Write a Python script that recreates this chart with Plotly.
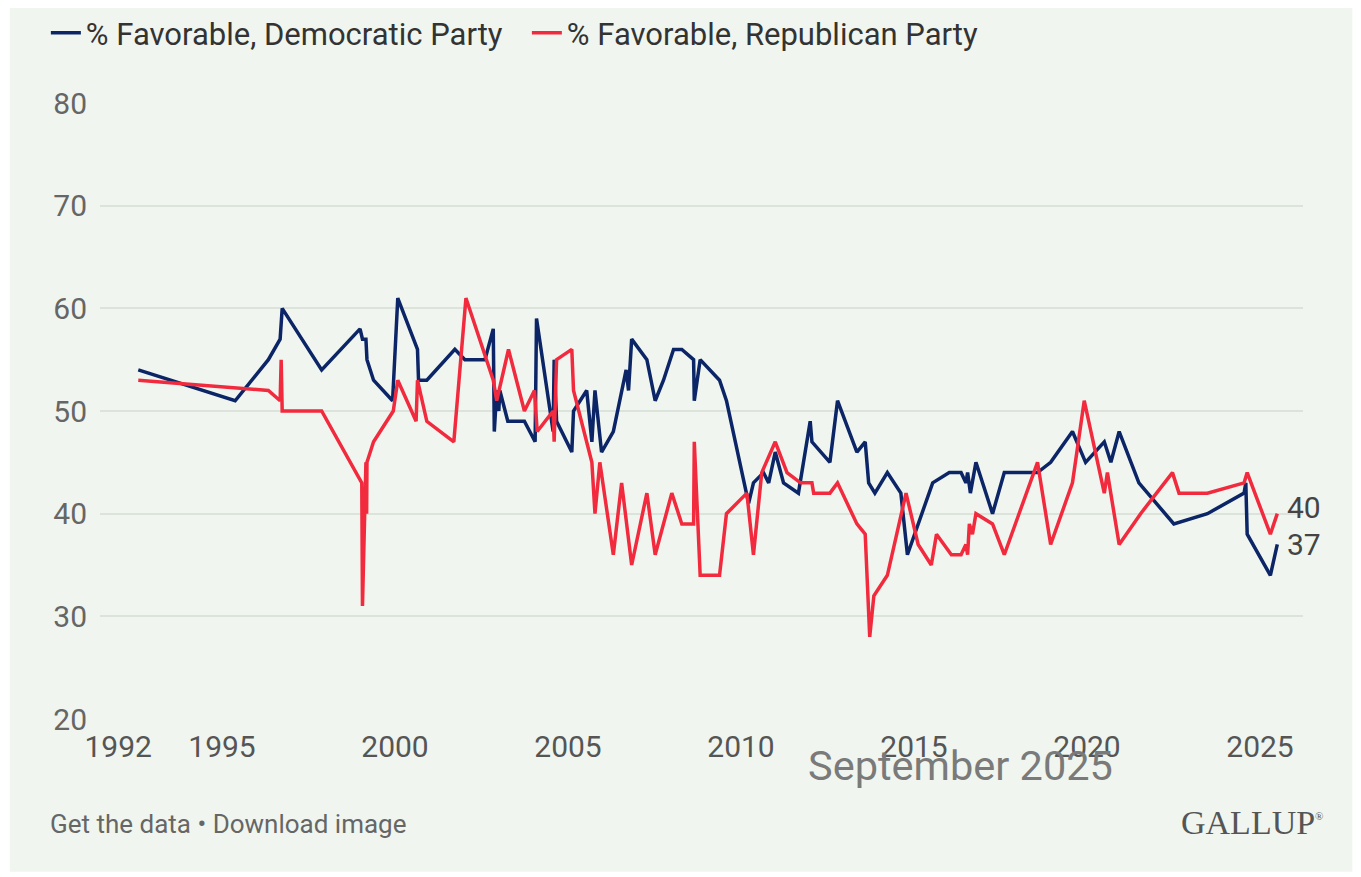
import plotly.graph_objects as go

# ---- data (decimal years, % favorable) ----
dem_years = [1992.58, 1995.38, 1996.34, 1996.68, 1996.74, 1997.88, 1998.99, 1999.06, 1999.16, 1999.19,
             1999.38, 1999.93, 2000.08, 2000.65, 2000.68, 2000.92, 2001.73, 2002.02, 2002.60, 2002.84,
             2002.87, 2002.94, 2003.00, 2003.03, 2003.26, 2003.74, 2004.05, 2004.09, 2004.57, 2004.60,
             2004.67, 2005.11, 2005.16, 2005.54, 2005.69, 2005.78, 2005.97, 2006.31, 2006.68, 2006.75,
             2006.84, 2007.28, 2007.52, 2007.76, 2008.05, 2008.29, 2008.63, 2008.65, 2008.82, 2009.38,
             2009.58, 2010.22, 2010.36, 2010.65, 2010.80, 2010.99, 2011.23, 2011.66, 2012.00, 2012.05,
             2012.57, 2012.79, 2013.35, 2013.59, 2013.69, 2013.87, 2014.23, 2014.62, 2014.81, 2015.54,
             2016.02, 2016.36, 2016.50, 2016.55, 2016.63, 2016.79, 2017.27, 2017.61, 2018.57, 2018.95,
             2019.58, 2019.96, 2020.50, 2020.69, 2020.93, 2021.50, 2022.51, 2023.48, 2024.54, 2024.59,
             2024.63, 2025.30, 2025.50]
dem_values = [54, 51, 55, 57, 60, 54, 58, 57, 57, 55,
              53, 51, 61, 56, 53, 53, 56, 55, 55, 58,
              48, 52, 50, 52, 49, 49, 47, 59, 48, 55,
              49, 46, 50, 52, 47, 52, 46, 48, 54, 52,
              57, 55, 51, 53, 56, 56, 55, 51, 55, 53,
              51, 41, 43, 44, 43, 46, 43, 42, 49, 47,
              45, 51, 46, 47, 43, 42, 44, 42, 36, 43,
              44, 44, 43, 44, 42, 45, 40, 44, 44, 45,
              48, 45, 47, 45, 48, 43, 39, 40, 42, 43,
              38, 34, 37]

rep_years = [1992.58, 1996.34, 1996.68, 1996.71, 1996.74, 1997.88, 1999.04, 1999.06, 1999.16, 1999.18,
             1999.19, 1999.38, 1999.95, 2000.08, 2000.61, 2000.65, 2000.92, 2001.70, 2002.05, 2002.84,
             2002.94, 2003.28, 2003.74, 2004.03, 2004.11, 2004.57, 2004.60, 2004.67, 2005.11, 2005.16,
             2005.69, 2005.78, 2005.92, 2006.31, 2006.55, 2006.84, 2007.28, 2007.52, 2008.00, 2008.29,
             2008.63, 2008.65, 2008.82, 2009.38, 2009.58, 2010.17, 2010.36, 2010.60, 2010.99, 2011.33,
             2011.72, 2012.05, 2012.10, 2012.57, 2012.79, 2013.35, 2013.59, 2013.72, 2013.84, 2014.23,
             2014.77, 2015.12, 2015.50, 2015.65, 2016.08, 2016.36, 2016.50, 2016.55, 2016.60, 2016.69,
             2016.79, 2017.27, 2017.61, 2018.57, 2018.95, 2019.58, 2019.92, 2020.50, 2020.59, 2020.93,
             2021.55, 2022.47, 2022.66, 2023.48, 2024.54, 2024.63, 2025.30, 2025.50]
rep_values = [53, 52, 51, 55, 50, 50, 43, 31, 45, 40,
              45, 47, 50, 53, 49, 53, 49, 47, 61, 53,
              51, 56, 50, 52, 48, 50, 47, 55, 56, 52,
              45, 40, 45, 36, 43, 35, 42, 36, 42, 39,
              39, 47, 34, 34, 40, 42, 36, 44, 47, 44,
              43, 43, 42, 42, 43, 39, 38, 28, 32, 34,
              42, 37, 35, 38, 36, 36, 37, 36, 39, 38,
              40, 39, 36, 45, 37, 43, 51, 42, 44, 37,
              40, 44, 42, 42, 43, 44, 38, 40]

x_ticks = [1992, 1995, 2000, 2005, 2010, 2015, 2020, 2025]
y_ticks = [20, 30, 40, 50, 60, 70, 80]

dem_name = "% Favorable, Democratic Party"
rep_name = "% Favorable, Republican Party"
dem_color = "#0b2566"
rep_color = "#f22a3e"
bg = "#f0f6ef"
FONT = "Roboto"

fig = go.Figure()
fig.add_trace(go.Scatter(x=dem_years, y=dem_values, mode="lines", name=dem_name,
                         line=dict(color=dem_color, width=3.5)))
fig.add_trace(go.Scatter(x=rep_years, y=rep_values, mode="lines", name=rep_name,
                         line=dict(color=rep_color, width=3.5)))

# end labels
fig.add_annotation(x=rep_years[-1], y=rep_values[-1], text=str(rep_values[-1]), showarrow=False,
                   xanchor="left", xshift=8, yshift=6, font=dict(family=FONT, size=30, color="#444"))
fig.add_annotation(x=dem_years[-1], y=dem_values[-1], text=str(dem_values[-1]), showarrow=False,
                   xanchor="left", xshift=8, font=dict(family=FONT, size=30, color="#444"))

# footer texts
fig.add_annotation(xref="paper", yref="paper", x=0.715, y=-0.075, text="September 2025",
                   showarrow=False, xanchor="center", yanchor="middle",
                   font=dict(family=FONT, size=41.5, color="#7a7a7a"))
fig.add_annotation(xref="paper", yref="paper", x=-0.043, y=-0.17, text="Get the data • Download image",
                   showarrow=False, xanchor="left", yanchor="middle",
                   font=dict(family=FONT, size=26, color="#666"))
fig.add_annotation(xref="paper", yref="paper", x=1.018, y=-0.168,
                   text="GALLUP<sup><span style='font-size:11px'>®</span></sup>",
                   showarrow=False, xanchor="right", yanchor="middle",
                   font=dict(family="Liberation Serif", size=34, color="#555"))

# panel background with white margins
fig.add_shape(type="rect", xref="paper", yref="paper", x0=-0.075, x1=1.041, y0=-0.248, y1=1.2,
              fillcolor=bg, line=dict(width=0), layer="below")

fig.update_layout(
    width=1353, height=869,
    margin=dict(l=92, r=58, t=95, b=158, autoexpand=False),
    paper_bgcolor="white", plot_bgcolor=bg,
    font=dict(family=FONT, size=30, color="#555"),
    showlegend=True,
    legend=dict(orientation="h", x=-0.045, y=1.1136, xanchor="left", yanchor="middle",
                font=dict(family=FONT, size=31, color="#333"), itemwidth=30,
                entrywidth=436, entrywidthmode="pixels",
                bgcolor="rgba(0,0,0,0)"),
    xaxis=dict(range=[1991.474, 2026.243], tickvals=x_ticks, ticktext=[str(v) for v in x_ticks],
               showgrid=False, zeroline=False, showline=False,
               ticks="outside", ticklen=1, tickcolor="rgba(0,0,0,0)",
               tickfont=dict(family=FONT, size=30, color="#555")),
    yaxis=dict(range=[20, 80], tickvals=y_ticks, showgrid=True, gridcolor="#dce3db", gridwidth=2,
               zeroline=False, showline=False,
               ticks="outside", ticklen=6, tickcolor="rgba(0,0,0,0)",
               tickfont=dict(family=FONT, size=30, color="#666")),
)

fig.write_html("out.html")
